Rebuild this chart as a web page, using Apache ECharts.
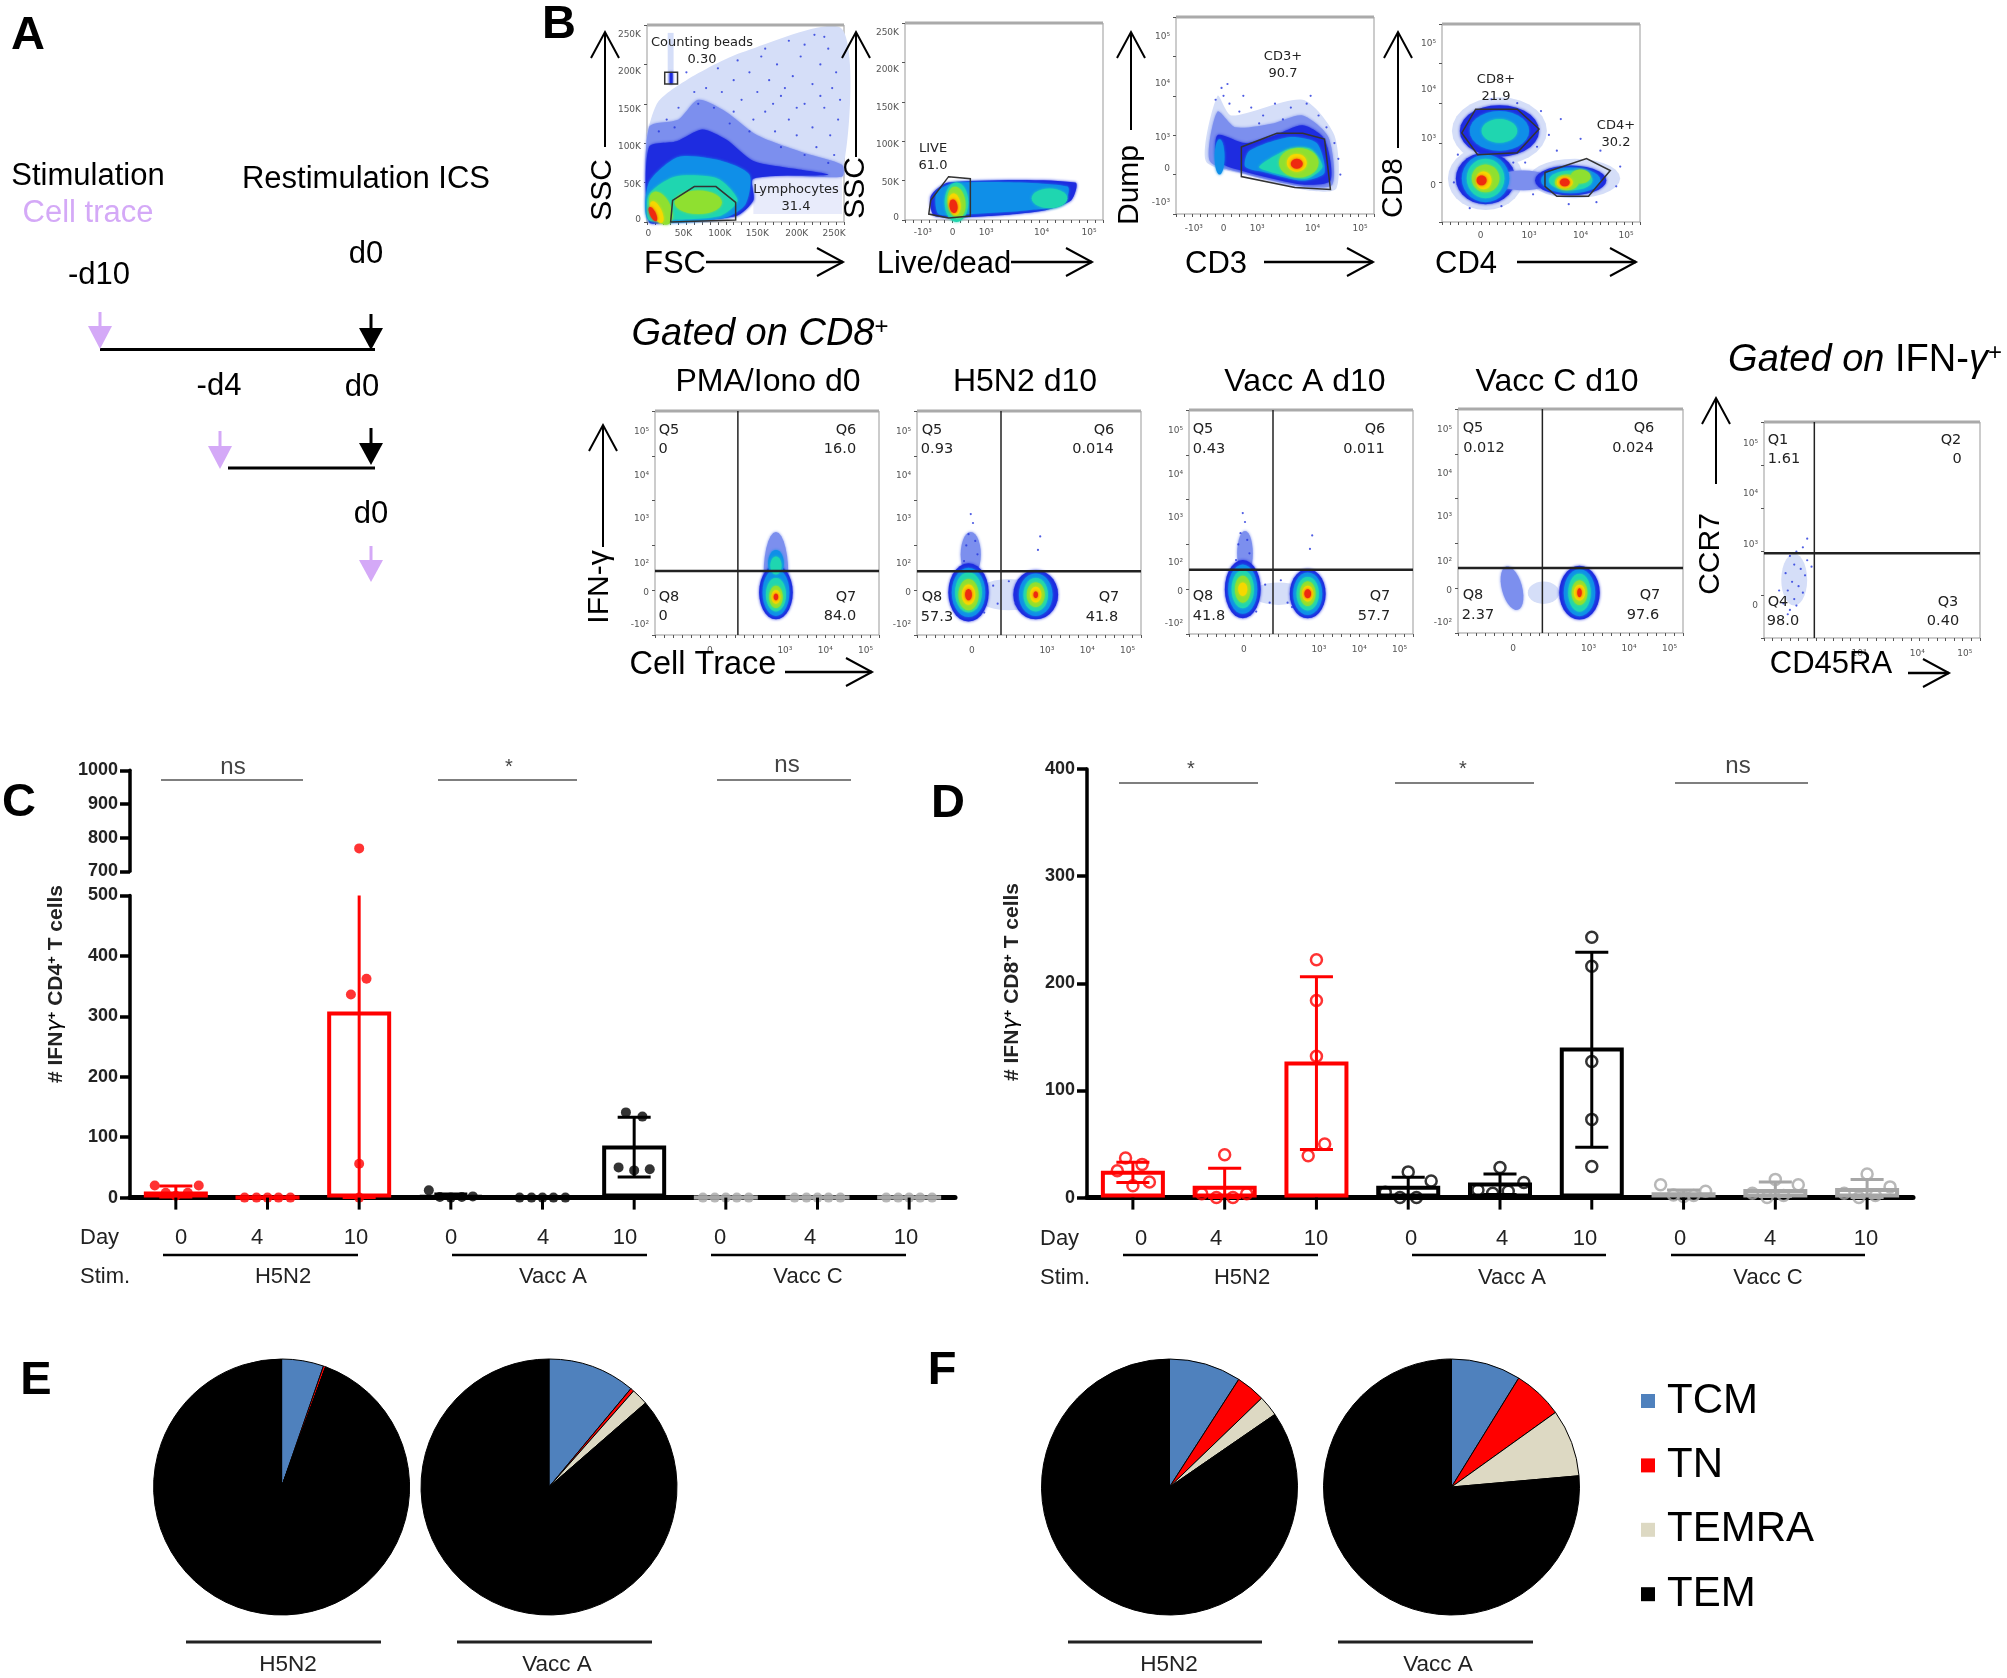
<!DOCTYPE html>
<html><head><meta charset="utf-8">
<style>html,body{margin:0;padding:0;background:#fff}#c{width:2007px;height:1678px}</style>
<script src="https://cdn.jsdelivr.net/npm/echarts@6/dist/echarts.min.js"></script>
</head><body><div id="c"></div>
<script>
// ---------- DATA: bar panels ----------
const dayLabels = ['0','4','10','0','4','10','0','4','10'];
const stimGroups = ['H5N2','Vacc A','Vacc C'];
const barCategories = ['H5N2 d0','H5N2 d4','H5N2 d10','Vacc A d0','Vacc A d4','Vacc A d10','Vacc C d0','Vacc C d4','Vacc C d10'];
const significanceC = ['ns','*','ns'];
const significanceD = ['*','*','ns'];
const cd4Means = [10,0,308,3,0,86,0,0,0];
const cd4ErrLow = [1,0,0,0,0,34,0,0,0];
const cd4ErrHigh = [19,0,500,6,0,133,0,0,0];
const cd4Points = [[20,8,3,8,20],[0,0,0,0,0],[336,0,56,768,362],[12,1,0,1,2],[0,0,0,0,0],[141,134,50,45,47],[0,0,0,0,0],[0,0,0,0,0],[0,0,0,0,0]];
const cd4Offsets = [[-.23,-.11,0,.13,.25],[-.25,-.12,0,.12,.25],[-.09,0,0,0,.08],[-.24,-.12,0,.12,.24],[-.25,-.12,0,.12,.25],[-.09,.09,-.17,0,.17],[-.25,-.12,0,.12,.25],[-.25,-.12,0,.12,.25],[-.25,-.12,0,.12,.25]];
const cd8Means = [25,11,127,11,14,140,5,8,9];
const cd8ErrLow = [14,0,45,0,3,47,2,1,0];
const cd8ErrHigh = [33,27.5,206,19,22,229,7,14.5,17];
const cd8Points = [[37,31,25,11,14.5],[40,3.5,0,0,3.5],[222,184,132,50,39],[24,15.5,5,0,0],[28,14,7,4,6],[243,216,127,73,29],[12,6,2.5,1,2],[17,12,4,0,2],[22,10,4,0,2]];
const cd8Offsets = [[-.08,.1,-.17,0,.18],[0,-.25,-.09,.09,.24],[0,0,0,.09,-.09],[0,.25,-.25,-.09,.09],[0,.26,-.24,-.08,.09],[0,0,0,0,0],[-.25,.24,-.11,0,.11],[0,.25,-.25,-.09,.09],[0,.25,-.25,-.09,.09]];
// ---------- DATA: pies ----------
const subsetNames = ['TCM','TN','TEMRA','TEM'];
const pieE1 = [5.3,0.3,0,94.4];
const pieE2 = [11.05,0.45,2.1,86.4];
const pieF1 = [9.1,3.7,2.6,84.6];
const pieF2 = [8.8,6.3,8.5,76.4];
const pieLabels = ['H5N2','Vacc A','H5N2','Vacc A'];
// ---------- DATA: flow plots, all in percent of the plot (x from left, y from bottom) ----------
// polygon contour: [level,[[x,y]...]]   ellipse contour: [level,cx,cy,rx,ry,rot]
const fscContours = [
 [0,[[1,36],[5,60],[20,72],[48,86],[99,98],[99,25],[79,30],[54,38]]],
 [0,[[10.5,70],[13.5,70],[13.5,96],[10.5,96]]],
 [7,[[54,4],[99,4],[99,23],[54,23]]],
 [1,[[11.5,70],[13,70],[13,76],[11.5,76]]],
 [8,[[1,1],[1,48],[16,52],[26,62],[40,56],[56,44],[80,35],[99,29],[99,23],[54,23],[54,11],[45,3],[10,0]]],
 [1,[[1,0],[1,38],[15,41],[28,47],[40,42],[54,31],[75,27],[92,24],[54,22],[54,11],[45,3],[10,0]]],
 [2,[[1,1],[1,20],[16,33],[38,31],[52,24],[50,9],[39,2]]],
 [3,[[1,1],[1,14],[14,23],[36,22],[46,11],[37,3],[10,1]]],
 [4,26,10,12,6,0],[4,7,7,5,9,25],[5,5,5,2.5,6,25],[6,3,4,1.5,4,25]];
const liveContours = [
 [1,[[15,2],[13,12],[22,19],[86,19],[84,10],[71,5],[42,2]]],
 [2,[[17,3],[16,14],[26,19],[82,17],[80,8],[62,5],[31,3]]],
 [3,73,11,9,5,0],[3,26,9,6,10,0],[4,26,9,4.5,8,8],[5,25,8,3,5.5,8],[6,24.5,7,2,3.5,8]];
const cd3Contours = [
 [0,[[15,27],[21,60],[28,50],[64,58],[80,40],[81,13],[66,12],[35,20]]],
 [8,[[17,27],[21,52],[30,44],[49,46],[64,50],[77,39],[79,15],[64,14],[33,21]]],
 [1,[[21,27],[21,40],[35,36],[50,40],[64,45],[75,38],[78,17],[64,15],[33,22]]],
 [2,22,29,2.5,9,0],
 [2,[[35,24],[37,32],[57,39],[71,36],[75,21],[64,17],[46,21]]],
 [3,[[42,24],[57,33],[68,33],[74,24],[66,18],[49,21]]],
 [4,62,26,10,7.5,0],[5,61,26,5,4.5,0],[6,61,25.5,3,2.5,0]];
const cd4cd8Contours = [
 [0,29,46,24,17,0],[0,67,22,23,10,0],[0,22,22,19,16,0],
 [1,29,46,20,13,0],[1,22,22,15,13,0],[8,41,21,14,5,0],[1,65,21,18,7.5,0],
 [2,29,46,15,10,0],[2,22,22,12,12,0],[2,65,21,15,6.5,0],
 [3,29,46,9,6,0],[3,22,22,9.5,10,0],[3,65,21,11,5,0],
 [4,22,22,7,7,0],[4,70,23,5,3.5,0],[4,63,20,6,4,0],
 [5,21,21,4,4.5,0],[5,62,20,4,3,0],[6,20,21,2.5,2.5,0],[6,62,20,2.5,2,0]];
const pmaContours = [[8,54,27,5.5,19,0],[1,54,19,7.5,12,0],[2,54,19,6,10.5,0],[2,54,32,3.5,6,0],[3,54,18,4.5,7.5,0],[3,54,31,2.5,4,0],[4,54,17,3,5,0],[5,54,17,2,3,0],[6,54,17,1,1.5,0]];
const h5n2Contours = [[0,41,18,15,7,0],[8,24,36,4.5,10,0],[1,23,19,9,13,0],[2,23,19,7.5,11,0],[3,23,19,6,9,0],[4,23,18,4.5,7,0],[5,23,18,3,4.5,0],[6,23,18,1.5,2.5,0],
 [1,53,18,10,11,0],[2,53,18,7.5,9.5,0],[3,53,18,5.5,7.5,0],[4,53,18,4,5.5,0],[5,53,18,2.5,3.5,0],[6,53,18,1,1.5,0]];
const vaccAContours = [[0,40,18,12,5,0],[8,25,36,3.5,10,0],[1,24,20,8,13,0],[2,24,20,6.5,11,0],[3,24,20,5,8.5,0],[4,24,20,3.5,6,0],[5,24,20,2,3,0],
 [1,53,18,8,11,0],[2,53,18,6.5,9.5,0],[3,53,18,5,7.5,0],[4,53,18,3.5,5.5,0],[5,53,18,2.5,3.5,0],[6,53,18,1.5,2,0]];
const vaccCContours = [[8,24,20,4.5,10,15],[0,38,18,7,5,0],[1,54,18,9,12,0],[2,54,18,7,10.5,0],[3,54,18,5,8.5,0],[4,54,18,3.5,5.5,0],[5,54,18,2.5,3.5,0],[6,54,18,1,2,0]];
const ccr7Contours = [[0,14,27,6,12,0]];
const fscDots = [[60,88],[72,92],[85,95],[92,88],[66,80],[78,84],[88,80],[96,76],[52,76],[62,72],[74,74],[84,70],[94,68],[44,72],[56,66],[68,64],[80,60],[90,58],[97,52],[38,66],[48,62],[60,56],[72,52],[84,48],[93,44],[30,68],[36,78],[26,60],[46,82],[58,84],[70,68],[76,44],[86,38],[95,34],[65,46],[54,52],[44,56],[34,58],[24,66],[16,58],[10,52],[20,76],[80,90],[90,94],[64,60],[88,64],[76,58],[52,46],[42,50],[68,38],[80,34],[92,30],[6,46],[14,48],[98,62]];
const cd3Dots = [[23,64],[24,60],[20,58],[27,56],[32,52],[38,54],[44,50],[50,56],[58,54],[66,56],[72,50],[76,44],[80,36],[82,28],[83,20],[42,46],[54,48],[68,60],[34,60],[26,66]];
const cd4cd8Dots = [[50,56],[54,44],[58,36],[48,38],[8,34],[6,20],[38,60],[25,62],[60,52],[70,42],[88,18],[90,28],[80,36],[42,30],[36,30],[46,14],[30,8],[14,7],[64,9],[78,10]];
const streakDots = [[23,45],[25,50],[22,40],[26,42],[24,54],[27,36],[21,33],[55,44],[54,38],[41,24],[46,12],[36,14],[34,22],[44,14],[30,10]];
const ccr7Dots = [[18,42],[15,40],[20,36],[12,38],[14,34],[17,32],[10,30],[19,29],[13,26],[16,24],[11,22],[18,21],[14,18],[9,16],[15,15],[12,13],[20,46],[11,11],[7,22],[22,33]];
const fscGates = [[[12,0],[13,11],[24,18],[35,18],[45,10],[45,1]],[[9,76],[15.5,76],[15.5,70],[9,70]]];
const liveGates = [[[22,22],[33,21],[33,2],[22,1],[12,3],[13,10]]];
const cd3Gates = [[[33,34],[51,41],[64,41],[75,38],[78,12.5],[60,13.5],[33,19]]];
const cd4cd8Gates = [[[17,57],[38,57],[49,47],[38,35],[18,34],[10,45]],[[52,25],[73,32],[85,26],[74,13],[58,13],[52,18]]];
const scatterYTicks = [[95,'250K'],[76.3,'200K'],[57,'150K'],[38,'100K'],[19,'50K'],[1,'0']];
const fscXTicks = [[.7,'0'],[18.5,'50K'],[37,'100K'],[56,'150K'],[76,'200K'],[95,'250K']];
const logXTicksA = [[9,'-10³'],[24,'0'],[41,'10³'],[69,'10⁴'],[93,'10⁵']];
const logYTicksA = [[90,'10⁵'],[66,'10⁴'],[39,'10³'],[23,'0'],[6,'-10³']];
const cd4XTicks = [[19.5,'0'],[44,'10³'],[70,'10⁴'],[93,'10⁵']];
const cd8YTicks = [[90,'10⁵'],[67,'10⁴'],[42,'10³'],[18.5,'0']];
const cellTraceXTicks = [[24.5,'0'],[58,'10³'],[76,'10⁴'],[94,'10⁵']];
const ifnYTicks = [[91,'10⁵'],[71,'10⁴'],[52,'10³'],[32,'10²'],[19,'0'],[4.5,'-10²']];
const cd45XTicks = [[44,'10³'],[71,'10⁴'],[93,'10⁵']];
const ccr7YTicks = [[90,'10⁵'],[67,'10⁴'],[43,'10³'],[15,'0']];
const quadrantV = [37,37.5,37.5,37.5,23.3];
const quadrantH = [28.6,28.5,28.7,29,39.2];

// ---------- styles ----------
const FONT = '"Liberation Sans", Arial, sans-serif';
const FLOWFONT = '"DejaVu Sans", sans-serif';
const RED='#ff0000', GRAY='#a6a6a6', PURPLE='#d4a9f7';
const groupColor = i => [RED,RED,RED,'#000','#000','#000',GRAY,GRAY,GRAY][i];
const subsetColors = ['#4f81bd','#ff0000','#ddd9c3','#000000'];
const LEVELS = ['#d5def8','#1e2ce0','#0f8fe8','#1fd6b0','#8fe030','#f6d800','#ee2a10','#e8ebfb','#7c8fee'];

// ---------- graphic helpers ----------
const G = [];
function T(text,x,y,size,o){o=o||{};
  const dy=o.rot?0:(size>=25?2.5:1);
  G.push({type:'text',x,y:y+dy,rotation:o.rot||0,z:20,silent:true,style:{text,fontSize:size,fontFamily:o.font||FONT,fontWeight:o.weight||'normal',fontStyle:o.style||'normal',fill:o.color||'#000',
    align:o.align||'center',textAlign:o.align||'center',verticalAlign:'middle',textVerticalAlign:'middle',rich:o.rich}});
}
function L(x1,y1,x2,y2,w,c){G.push({type:'line',z:20,silent:true,shape:{x1,y1,x2,y2},style:{stroke:c||'#000',lineWidth:w||2}});}
function openUp(x,y1,y2){L(x,y1,x,y2,2);G.push({type:'polyline',z:20,silent:true,shape:{points:[[x-14,y2+26],[x,y2],[x+14,y2+26]]},style:{stroke:'#000',lineWidth:2,fill:null}});}
function openRight(x1,x2,y){L(x1,y,x2,y,2.5);G.push({type:'polyline',z:20,silent:true,shape:{points:[[x2-26,y-14],[x2,y],[x2-26,y+14]]},style:{stroke:'#000',lineWidth:2,fill:null}});}
function down(x,y1,y2,yh,c){L(x,y1,x,yh+1,3,c);G.push({type:'polygon',z:20,silent:true,shape:{points:[[x-12,yh],[x+12,yh],[x,y2]]},style:{fill:c}});}

// Panel letters
T('A',28,34,47,{weight:'bold'});T('B',559,23,47,{weight:'bold'});T('C',19,801,47,{weight:'bold'});T('D',948,802,47,{weight:'bold'});T('E',36,1379,47,{weight:'bold'});T('F',942,1369,47,{weight:'bold'});
// Panel A
T('Stimulation',88,174,31);T('Cell trace',88,211,31,{color:PURPLE});T('Restimulation ICS',366,177,31);
T('-d10',99,273,31);T('d0',366,252,31);T('-d4',219,384,31);T('d0',362,385,31);T('d0',371,512,31);
L(100,349.5,375,349.5,3);L(228,468,375,468,3);
down(100,312,349,326,PURPLE);down(371,314,350,328,'#000');down(220,431,469,446,PURPLE);down(371,428,465,443,'#000');down(371,546,582,560,PURPLE);
// Panel B big labels and arrows
T('SSC',603,190,30,{rot:Math.PI/2});openUp(605,147,32);T('SSC',856,188,30,{rot:Math.PI/2});openUp(856,157,32);
T('Dump',1130,185,30,{rot:Math.PI/2});openUp(1131,130,32);T('CD8',1394,188,30,{rot:Math.PI/2});openUp(1398,148,32);
T('FSC',675,262,31);openRight(706,843,262);T('Live/dead',944,262,31);openRight(1011,1092,262);T('CD3',1216,262,31);openRight(1264,1373,262);T('CD4',1466,262,31);openRight(1517,1636,262);
const supRich={a:{fontSize:38,fontStyle:'italic',fontFamily:FONT},b:{fontSize:38,fontFamily:FONT},s:{fontSize:24,fontFamily:FONT,verticalAlign:'top'}};
T('{a|Gated on CD8}{s|+}',760,332,38,{rich:supRich});
T('{a|Gated on }{b|IFN-}{a|γ}{s|+}',1865,358,38,{rich:supRich});
T('PMA/Iono d0',768,380,32);T('H5N2 d10',1025,380,32);T('Vacc A d10',1305,380,32);T('Vacc C d10',1557,380,32);
T('IFN-γ',600,587,30,{rot:Math.PI/2});openUp(603,547,425);T('Cell Trace',703,663,32.5);openRight(785,872,672);
T('CCR7',1711,554,30,{rot:Math.PI/2});openUp(1716,484,398);T('CD45RA',1831,662,31);openRight(1908,1949,673);
// Flow text
const flowText=[['Counting beads',702,42],['0.30',702,59],['Lymphocytes',796,189],['31.4',796,206],['LIVE',933,148],['61.0',933,165],['CD3+',1283,56],['90.7',1283,73],['CD8+',1496,79],['21.9',1496,96],['CD4+',1616,125],['30.2',1616,142]];
flowText.forEach(t=>T(t[0],t[1],t[2],13,{font:FLOWFONT,color:'#222'}));
const quadText=[['Q5',669,429],['0',663,448],['Q6',846,429],['16.0',840,448],['Q8',669,596],['0',663,615],['Q7',846,596],['84.0',840,615],
 ['Q5',932,429],['0.93',937,448],['Q6',1104,429],['0.014',1093,448],['Q8',932,596],['57.3',937,616],['Q7',1109,596],['41.8',1102,616],
 ['Q5',1203,428],['0.43',1209,448],['Q6',1375,428],['0.011',1364,448],['Q8',1203,595],['41.8',1209,615],['Q7',1380,595],['57.7',1374,615],
 ['Q5',1473,427],['0.012',1484,447],['Q6',1644,427],['0.024',1633,447],['Q8',1473,594],['2.37',1478,614],['Q7',1650,594],['97.6',1643,614],
 ['Q1',1778,439],['1.61',1784,458],['Q2',1951,439],['0',1957,458],['Q4',1778,601],['98.0',1783,620],['Q3',1948,601],['0.40',1943,620]];
quadText.forEach(t=>T(t[0],t[1],t[2],14.5,{font:FLOWFONT,color:'#222'}));
// Bar panel annotation
const yRich={b:{fontSize:21,fontWeight:'bold',fontFamily:FONT,fill:'#222'},s:{fontSize:13,fontWeight:'bold',fontFamily:FONT,verticalAlign:'top'},g:{fontSize:21,fontFamily:'"DejaVu Sans"',fontStyle:'italic'}};
T('{b|# IFN}{g|γ}{s|+}{b| CD4}{s|+}{b| T cells}',56,984,21,{rot:Math.PI/2,rich:yRich});
T('{b|# IFN}{g|γ}{s|+}{b| CD8}{s|+}{b| T cells}',1012,982,21,{rot:Math.PI/2,rich:yRich});
function barAnn(dayX,labelXs,lines,stimXs,sig,sigXs,sigLines,sigY,lineY,dayY,stimY,lY){
  T('Day',dayX,dayY,22,{align:'left',color:'#222'});T('Stim.',dayX,stimY,22,{align:'left',color:'#222'});
  dayLabels.forEach((d,i)=>T(d,labelXs[i],dayY,22,{color:'#222'}));
  lines.forEach(l=>L(l[0],lY,l[1],lY,2.5));
  stimGroups.forEach((s,i)=>T(s,stimXs[i],stimY,22,{color:'#222'}));
  sig.forEach((s,i)=>{T(s,sigXs[i],sigY[i],s==='*'?20:24,{color:'#444'});L(sigLines[i][0],lineY,sigLines[i][1],lineY,1.5,'#555');});
}
barAnn(80,[181,257,356,451,543,625,720,810,906],[[163,358],[452,647],[711,906]],[283,553,808],significanceC,[233,509,787],[[161,303],[438,577],[717,851]],[766,766,764],780,1237,1276,1255);
barAnn(1040,[1141,1216,1316,1411,1502,1585,1680,1770,1866],[[1123,1318],[1412,1606],[1671,1865]],[1242,1512,1768],significanceD,[1191,1463,1738],[[1119,1258],[1395,1534],[1675,1808]],[768,768,765],783,1237.5,1277,1255);
// pie captions
[[186,381,288],[457,652,557],[1068,1262,1169],[1338,1533,1438]].forEach((p,i)=>{L(p[0],1642,p[1],1642,3,'#222');T(pieLabels[i],p[2],1664,22.5,{color:'#222'});});

// ---------- ECharts structures ----------
const grids=[],xAxes=[],yAxes=[],series=[];
const barY={axisLine:{show:true,onZero:false,lineStyle:{color:'#000',width:3.5}},axisTick:{show:true,length:10,lineStyle:{color:'#000',width:3.5}},splitLine:{show:false},
  axisLabel:{fontSize:18,fontWeight:'bold',fontFamily:FONT,color:'#222',margin:12,formatter:v=>String(v)}};
const catX=()=>({type:'category',data:barCategories,axisLabel:{show:false},axisTick:{show:false},axisLine:{show:true,lineStyle:{color:'#000',width:5}}});
const valX=g=>({type:'value',gridIndex:g,min:-.5,max:8.5,show:false});
grids.push({left:130,top:895.4,width:825,height:302.2},{left:130,top:770.3,width:825,height:101},{left:1087,top:769,width:826,height:428.6});
xAxes.push(Object.assign(catX(),{gridIndex:0}),valX(0),valX(1),Object.assign(catX(),{gridIndex:2}),valX(2));
yAxes.push(Object.assign({type:'value',gridIndex:0,min:0,max:500,interval:100},barY),Object.assign({type:'value',gridIndex:1,min:700,max:1000,interval:100},barY),Object.assign({type:'value',gridIndex:2,min:0,max:400,interval:100},barY));

function tickSeries(xi,yi){return {type:'custom',xAxisIndex:xi,yAxisIndex:yi,z:6,silent:true,clip:false,encode:{x:0,y:1},
  data:barCategories.map((_,i)=>[i,0]),
  renderItem:(p,api)=>{const a=api.coord([api.value(0),0]);return {type:'line',shape:{x1:a[0],y1:a[1],x2:a[0],y2:a[1]+12},style:{stroke:'#000',lineWidth:3}};}};}
function errSeries(low,high,xi,yi){
  return {type:'custom',xAxisIndex:xi,yAxisIndex:yi,z:4,silent:true,clip:false,encode:{x:0,y:[1,2]},
    data:low.map((l,i)=>[i,l,high[i]]).filter(d=>d[1]!==d[2]),
    renderItem:(p,api)=>{const i=api.value(0),c=groupColor(i),st={stroke:c,lineWidth:3};
      const a=api.coord([i,api.value(1)]),b=api.coord([i,api.value(2)]),l=api.coord([i-.18,0])[0],r=api.coord([i+.18,0])[0];
      const kids=[{type:'line',shape:{x1:a[0],y1:a[1],x2:b[0],y2:b[1]},style:st},{type:'line',shape:{x1:l,y1:a[1],x2:r,y2:a[1]},style:st}];
      if(api.value(2)<500)kids.push({type:'line',shape:{x1:l,y1:b[1],x2:r,y2:b[1]},style:st});
      return {type:'group',children:kids};}};
}
function barSeries(m,xi,yi){return {type:'bar',xAxisIndex:xi,yAxisIndex:yi,barWidth:64,z:3,silent:true,data:m.map((v,i)=>({value:v,itemStyle:{color:'rgba(0,0,0,0)',borderColor:groupColor(i),borderWidth:4}}))};}
function ptsData(points,offs,pred){const out=[];points.forEach((arr,i)=>arr.forEach((v,j)=>{if(pred(v))out.push([i+offs[i][j],v,i]);}));return out;}
function ptSeries(data,xi,yi,hollow){return {type:'scatter',xAxisIndex:xi,yAxisIndex:yi,z:5,silent:true,clip:false,symbolSize:hollow?11:10,
  data:data.map(d=>({value:[d[0],d[1]],itemStyle:hollow?{color:'rgba(0,0,0,0)',borderColor:groupColor(d[2]),borderWidth:2.5}:{color:groupColor(d[2])}}))};}
series.push(barSeries(cd4Means,0,0),errSeries(cd4ErrLow,cd4ErrHigh,1,0),tickSeries(1,0),
  ptSeries(ptsData(cd4Points,cd4Offsets,v=>v<=500),1,0,false),ptSeries(ptsData(cd4Points,cd4Offsets,v=>v>500),2,1,false));
series.push(barSeries(cd8Means,3,2),errSeries(cd8ErrLow,cd8ErrHigh,4,2),tickSeries(4,2),ptSeries(ptsData(cd8Points,cd8Offsets,()=>true),4,2,true));

// flow plots
const flowPlots=[
 {r:[647,25,197,197],c:fscContours,g:fscGates,d:fscDots,xt:fscXTicks,yt:scatterYTicks,lx:12},
 {r:[905,23,198,197],c:liveContours,g:liveGates,xt:logXTicksA,yt:scatterYTicks,lx:13},
 {r:[1176,17,198,197],c:cd3Contours,g:cd3Gates,d:cd3Dots,xt:logXTicksA,yt:logYTicksA,lx:15},
 {r:[1442,24,198,198],c:cd4cd8Contours,g:cd4cd8Gates,d:cd4cd8Dots,xt:cd4XTicks,yt:cd8YTicks,lx:14},
 {r:[655,411,224,224],c:pmaContours,q:0,xt:cellTraceXTicks,yt:ifnYTicks,lx:16},
 {r:[917,411,224,224],c:h5n2Contours,q:1,d:streakDots,xt:cellTraceXTicks,yt:ifnYTicks,lx:16},
 {r:[1189,410,224,224],c:vaccAContours,q:2,d:streakDots,xt:cellTraceXTicks,yt:ifnYTicks,lx:16},
 {r:[1458,409,225,224],c:vaccCContours,q:3,xt:cellTraceXTicks,yt:ifnYTicks,lx:16},
 {r:[1764,422,216,216],c:ccr7Contours,q:4,d:ccr7Dots,xt:cd45XTicks,yt:ccr7YTicks,lx:16}];
function contourShape(c,api){
  let pts,smooth=0;
  if(Array.isArray(c[1])){pts=c[1].map(p=>api.coord(p));smooth=c[1].length>4?.25:0;}
  else{const ctr=api.coord([c[1],c[2]]),s=api.size([1,1]),rot=(c[5]||0)*Math.PI/180;pts=[];
    for(let k=0;k<28;k++){const t=k/28*2*Math.PI,ex=c[3]*s[0]*Math.cos(t),ey=c[4]*s[1]*Math.sin(t);pts.push([ctr[0]+ex*Math.cos(rot)+ey*Math.sin(rot),ctr[1]-ex*Math.sin(rot)+ey*Math.cos(rot)]);}}
  const col=LEVELS[c[0]];
  return {type:'polygon',shape:{points:pts,smooth},style:{fill:col,shadowBlur:(c[0]===7||c[0]===0)?0:3,shadowColor:col}};
}
flowPlots.forEach((p,i)=>{
  const gi=grids.length,xi=xAxes.length,yi=yAxes.length;
  grids.push({left:p.r[0],top:p.r[1],width:p.r[2],height:p.r[3],show:true,borderColor:'#999',borderWidth:1,backgroundColor:'#fff'});
  const ticks={show:true,length:3,lineStyle:{color:'#555',width:1}};
  xAxes.push({type:'value',gridIndex:gi,min:0,max:100,interval:4,axisLine:{show:false},axisTick:ticks,axisLabel:{show:false},splitLine:{show:false}});
  yAxes.push({type:'value',gridIndex:gi,min:0,max:100,interval:20,axisLine:{show:false},axisTick:ticks,axisLabel:{show:false},splitLine:{show:false}});
  const base={type:'custom',xAxisIndex:xi,yAxisIndex:yi,silent:true,clip:false};
  series.push(Object.assign({},base,{z:2,data:p.c.map((_,k)=>[k,0]),renderItem:(_p,api)=>contourShape(p.c[api.value(0)],api)}));
  if(p.d)series.push({type:'scatter',xAxisIndex:xi,yAxisIndex:yi,z:2,silent:true,symbolSize:2.2,itemStyle:{color:'#2334dc'},data:p.d});
  const gates=p.g||[];
  series.push(Object.assign({},base,{z:3,data:gates.map((_,k)=>[k,0]),renderItem:(_p,api)=>({type:'polygon',shape:{points:gates[api.value(0)].map(q=>api.coord(q))},style:{fill:'none',stroke:'#333',lineWidth:1.5}})}));
  // top frame and quadrant lines
  const lines=[[0,100,100,100,'#aaa',3]];
  if(p.q!==undefined){lines.push([quadrantV[p.q],0,quadrantV[p.q],100,'#222',1.5],[0,quadrantH[p.q],100,quadrantH[p.q],'#222',2.5]);}
  series.push(Object.assign({},base,{z:4,data:lines.map((_,k)=>[k,0]),renderItem:(_p,api)=>{const l=lines[api.value(0)],a=api.coord([l[0],l[1]]),b=api.coord([l[2],l[3]]);return {type:'line',shape:{x1:a[0],y1:a[1],x2:b[0],y2:b[1]},style:{stroke:l[4],lineWidth:l[5]}};}}));
  // tick labels
  const tl=p.xt.map(t=>['x',t[0],t[1]]).concat(p.yt.map(t=>['y',t[0],t[1]]));
  series.push(Object.assign({},base,{z:4,data:tl.map((_,k)=>[k,0]),renderItem:(_p,api)=>{const t=tl[api.value(0)];
    const pos=t[0]==='x'?api.coord([t[1],0]):api.coord([0,t[1]]);
    return {type:'text',x:t[0]==='x'?pos[0]:pos[0]-6,y:t[0]==='x'?pos[1]+p.lx:pos[1],style:{text:t[2],fontSize:9,fontFamily:FLOWFONT,fill:'#555',align:t[0]==='x'?'center':'right',textAlign:t[0]==='x'?'center':'right',verticalAlign:'middle',textVerticalAlign:'middle'}};}}));
});
// pies
[[pieE1,281.6],[pieE2,549],[pieF1,1169.5],[pieF2,1451.5]].forEach(d=>{
  series.push({type:'pie',radius:128,center:[d[1],1487],startAngle:90,silent:true,label:{show:false},labelLine:{show:false},emphasis:{disabled:true},
    itemStyle:{borderColor:'#000',borderWidth:1},
    data:subsetNames.map((n,i)=>({name:n,value:d[0][i],itemStyle:{color:subsetColors[i]}}))});
});
const chart=echarts.init(document.getElementById('c'),null,{renderer:'canvas',width:2007,height:1678});
chart.setOption({animation:false,backgroundColor:'#fff',grid:grids,xAxis:xAxes,yAxis:yAxes,series,
  legend:{orient:'vertical',left:1641,top:1380,itemWidth:14,itemHeight:14,itemGap:22.4,padding:0,icon:'rect',selectedMode:false,data:subsetNames,
    itemStyle:{borderWidth:0},textStyle:{fontSize:42,fontFamily:FONT,color:'#000',padding:[0,0,0,7]}},
  graphic:{elements:G}});
</script></body></html>
